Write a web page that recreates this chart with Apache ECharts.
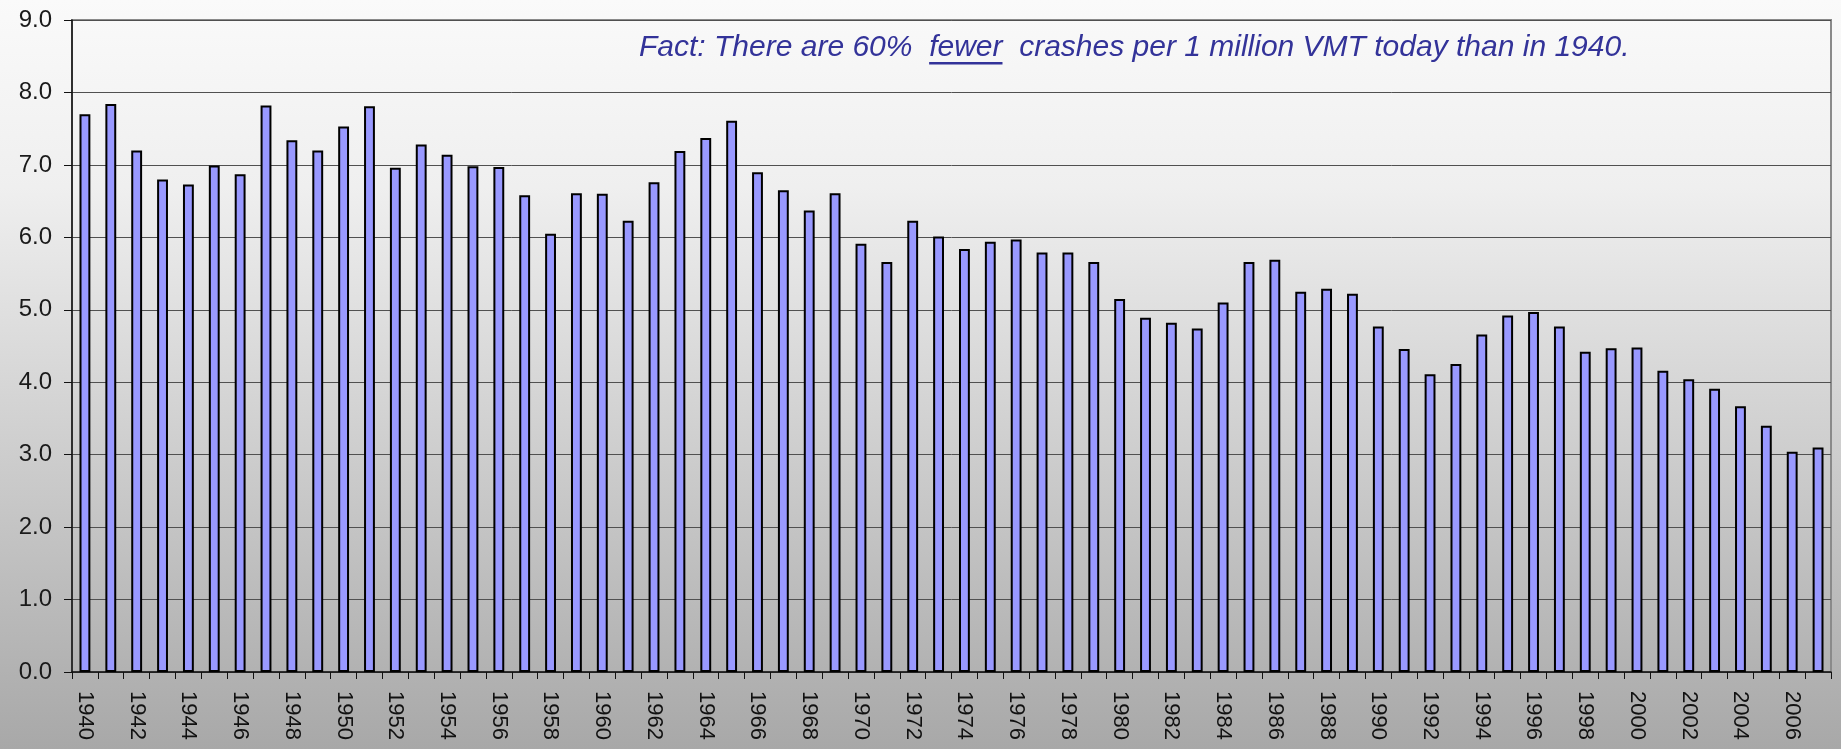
<!DOCTYPE html>
<html>
<head>
<meta charset="utf-8">
<script src="https://cdn.jsdelivr.net/npm/echarts@6/dist/echarts.min.js"></script>
<style>
  html, body { margin: 0; padding: 0; }
  #chart { width: 1841px; height: 749px; }
</style>
</head>
<body>
<div id="chart"></div>
<script>
// crashes per 1 million VMT, 1940 - 2007
var years = [];
for (var y = 1940; y <= 2007; y++) {
    years.push(String(y));
}

var crashRate = [
    7.70, 7.84, 7.20, 6.80, 6.73, 6.99, 6.87, 7.82, 7.34, 7.20,
    7.53, 7.81, 6.96, 7.28, 7.14, 6.98, 6.97, 6.58, 6.05, 6.61,
    6.60, 6.23, 6.76, 7.19, 7.37, 7.61, 6.90, 6.65, 6.37, 6.61,
    5.91, 5.66, 6.23, 6.01, 5.84, 5.94, 5.97, 5.79, 5.79, 5.66,
    5.15, 4.89, 4.82, 4.74, 5.10, 5.66, 5.69, 5.25, 5.29, 5.22,
    4.77, 4.46, 4.11, 4.25, 4.66, 4.92, 4.97, 4.77, 4.42, 4.47,
    4.48, 4.16, 4.04, 3.91, 3.67, 3.40, 3.04, 3.10
];

var factBefore = 'Fact: There are 60%  ';
var factWord = 'fewer';
var factAfter = '  crashes per 1 million VMT today than in 1940.';

var chart = echarts.init(document.getElementById('chart'));

// measure the note so the underline sits under "fewer"
var noteFont = 'italic 30px "Liberation Sans", Arial, sans-serif';
var ctx = document.createElement('canvas').getContext('2d');
ctx.font = noteFont;
var wBefore = ctx.measureText(factBefore).width;
var wWord = ctx.measureText(factWord).width;
var noteX = 639;

var option = {
    animation: false,
    backgroundColor: {
        type: 'linear', x: 0, y: 0, x2: 0, y2: 1,
        colorStops: [
            { offset: 0, color: '#fafafa' },
            { offset: 0.25, color: '#efefef' },
            { offset: 1, color: '#a8a8a8' }
        ]
    },
    grid: {
        left: 72,
        right: 10,
        top: 20,
        bottom: 77,
        show: true,
        borderColor: '#8a8a8a',
        borderWidth: 2,
        backgroundColor: 'transparent'
    },
    xAxis: {
        type: 'category',
        data: years,
        boundaryGap: true,
        axisLine: { lineStyle: { color: '#111', width: 1.5 } },
        axisTick: { show: true, interval: 0, length: 7, lineStyle: { color: '#111' } },
        axisLabel: {
            interval: 1,
            rotate: -90,
            margin: 19,
            color: '#111',
            fontSize: 22,
            fontFamily: '"Liberation Sans", Arial, sans-serif'
        },
        splitLine: { show: false }
    },
    yAxis: {
        type: 'value',
        min: 0,
        max: 9,
        interval: 1,
        axisLine: { show: true, lineStyle: { color: '#111', width: 1.5 } },
        axisTick: { show: true, length: 8, lineStyle: { color: '#111' } },
        axisLabel: {
            margin: 20,
            color: '#1a1a1a',
            fontSize: 24,
            fontFamily: '"Liberation Sans", Arial, sans-serif',
            formatter: function (v) { return v.toFixed(1); }
        },
        splitLine: { show: true, lineStyle: { color: '#505050', width: 1 } }
    },
    series: [{
        name: 'Crashes per 1 million VMT',
        type: 'bar',
        data: crashRate,
        barWidth: '42%',
        itemStyle: {
            color: '#9999ff',
            borderColor: '#000',
            borderWidth: 2
        }
    }],
    graphic: [
        {
            type: 'text',
            x: noteX,
            y: 48,
            style: {
                text: factBefore + factWord + factAfter,
                font: noteFont,
                fill: '#333399',
                verticalAlign: 'middle'
            },
            z: 10
        },
        {
            type: 'rect',
            shape: { x: noteX + wBefore, y: 62, width: wWord, height: 2.5 },
            style: { fill: '#333399' },
            z: 10
        }
    ]
};

chart.setOption(option);
</script>
</body>
</html>
